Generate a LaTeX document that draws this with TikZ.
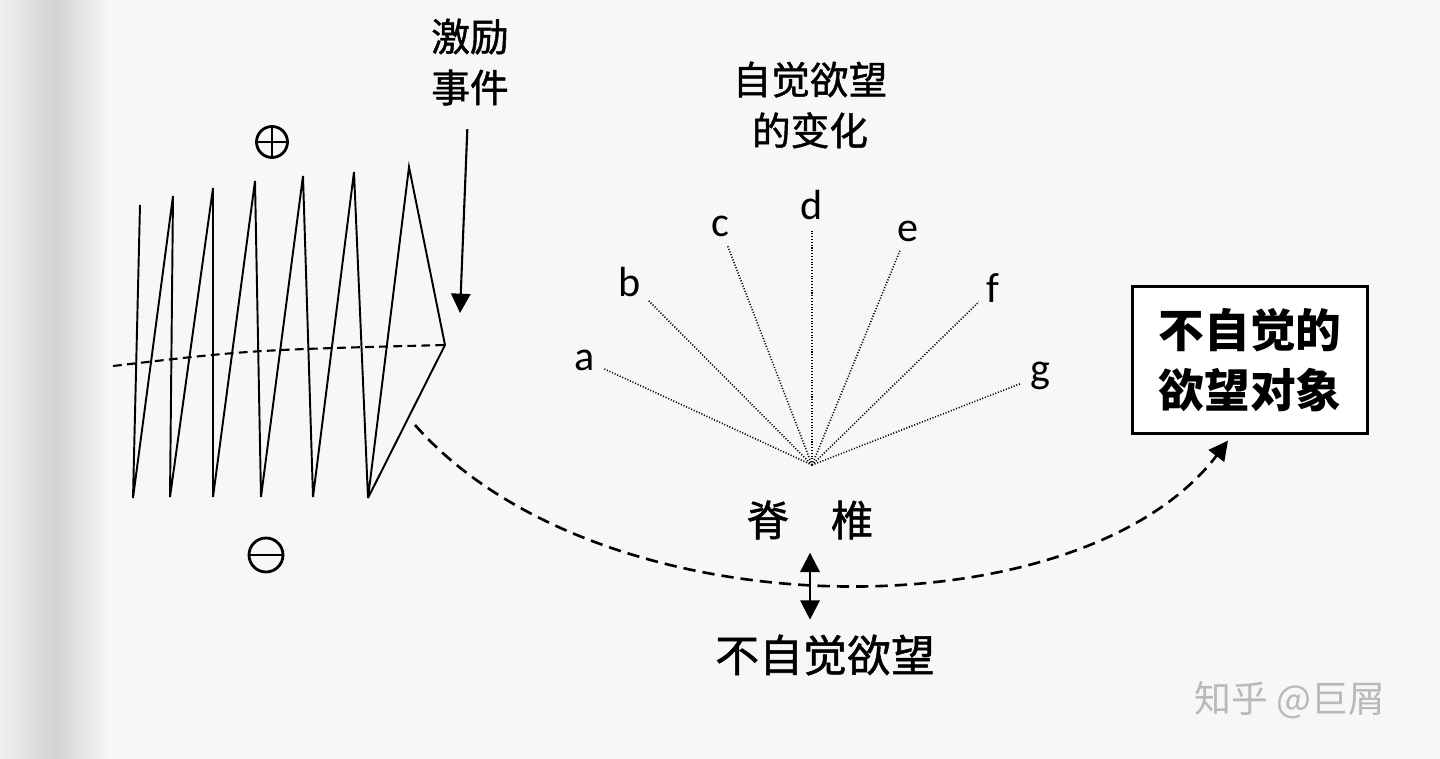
\documentclass[tikz,border=0pt]{standalone}
\usepackage{fontspec}
\setmainfont{Carlito}
\newfontfamily\cjk[FakeBold=1.2]{Noto Sans CJK SC}
\newfontfamily\cjkbold{Noto Sans CJK SC}
\usetikzlibrary{arrows.meta,positioning,calc}

\begin{document}
\begin{tikzpicture}[x=0.02cm,y=-0.02cm,>={Triangle[width=11pt,length=11pt]},
 cjktext/.style={font=\cjk\fontsize{22}{29}\selectfont,align=center},
 letter/.style={font=\fontsize{24}{24}\selectfont,inner sep=2pt},
 ray/.style={line width=0.9pt,dash pattern=on 0.6pt off 1pt,shorten >=3pt},
 sign/.style={circle,draw,line width=1.6pt,inner sep=0pt,minimum size=0.62cm},
 objbox/.style={draw,line width=1.3pt,fill=white,align=center,minimum width=4.7cm,minimum height=2.94cm,
  font=\cjkbold\bfseries\fontsize{26}{34}\selectfont}]
\fill[gray!6] (0,0) rectangle (1440,759);
\shade[left color=gray!12,right color=gray!6,middle color=gray!35] (0,0) rectangle (110,759);
\useasboundingbox (0,0) rectangle (1440,759);
\draw[line width=1.1pt,line join=miter] (140,205) -- (133,498) -- (173,196) -- (170,497) -- (213,188)
 -- (213,497) -- (255,181) -- (261,497) -- (303,176) -- (313,497) -- (354,172) -- (368,498)
 -- (409,167) -- (445,345) -- (368,498);
\coordinate (tip) at (445,345);
\coordinate (drop) at (415,425);
\draw[line width=1.2pt,dash pattern=on 5pt off 3pt] (113,366) .. controls (250,350) .. (tip);
\node[sign] (plus) at (272,142) {};
\draw[line width=1.4pt] (plus.north) -- (plus.south) (plus.west) -- (plus.east);
\node[sign,minimum size=0.68cm] (minus) at (266,555) {};
\draw[line width=1.6pt] (minus.west) -- (minus.east);
\node[cjktext] (stim) at (470,62) {激励\\事件};
\coordinate (hit) at (460,313);
\draw[->,line width=1.2pt,shorten <=10pt] (stim) -- (hit);
\node[cjktext] (chg) at (810,105) {自觉欲望\\的变化};
\coordinate (spine) at (812,465);
\foreach \n/\x/\y in {a/585/360,b/630/282,c/720/226,d/812/205,e/908/231,f/993/288,g/1040/376}{
 \node[letter] (\n) at (\x,\y) {\n};
 \draw[ray] (spine) -- (\n);
}
\node[cjktext,font=\cjk\fontsize{24}{29}\selectfont] (spn) at (810,520) {脊\hspace{1em}椎};
\node[cjktext,font=\cjk\fontsize{25}{29}\selectfont] (unc) at (825,655) {不自觉欲望};
\draw[<->,line width=1.3pt,shorten <=4pt,shorten >=5pt] (spn.south) -- (spn.south |- unc.north);
\node[objbox] (obj) at (1250,360) {不自觉的\\欲望对象};
\draw[line width=1.5pt,dash pattern=on 7pt off 4pt,->] (drop) .. controls (600,635) and (1080,635) .. ($(obj.south)+(-22,6)$);
\node[font=\cjkbold\fontsize{21}{21}\selectfont,text=gray!55] (mark) at (1290,700) {知乎 @巨屑};
\end{tikzpicture}
\end{document}
